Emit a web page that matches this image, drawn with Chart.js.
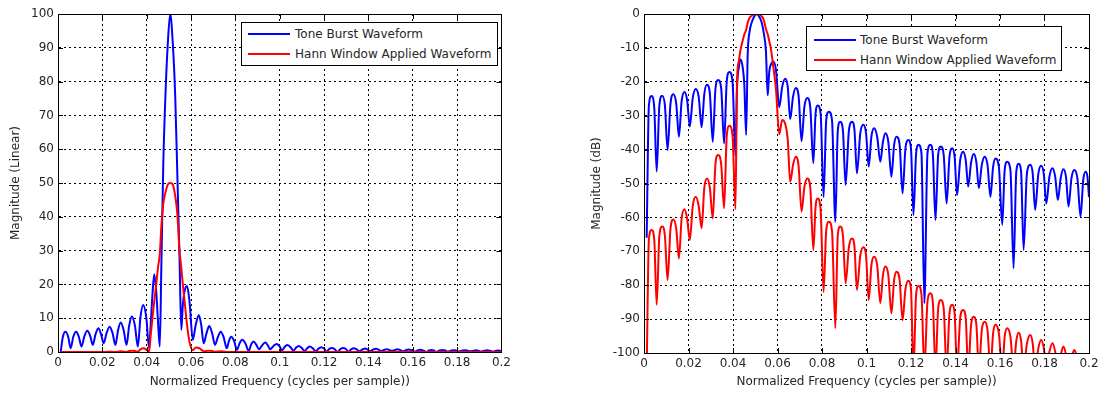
<!DOCTYPE html>
<html>
<head>
<meta charset="utf-8">
<script src="https://cdn.jsdelivr.net/npm/chart.js@4.4.1/dist/chart.umd.min.js"></script>
<style>
    body { margin: 0; background: #fff; width: 1103px; height: 394px; position: relative; overflow: hidden; }
    canvas { position: absolute; top: 0; }
    #left-chart { left: 0; }
    #right-chart { left: 580px; }
    .legend {
        position: absolute;
        background: #fff;
        border: 1px solid #000;
        box-sizing: border-box;
        font: 12px "DejaVu Sans", sans-serif;
        color: #262626;
    }
    .legend .row { position: absolute; left: 0; height: 20px; line-height: 20px; white-space: nowrap; }
    .legend .swatch { position: absolute; top: 9px; height: 2px; }
    .legend .label { position: absolute; top: 0; }
</style>
</head>
<body>
<canvas id="left-chart" width="515" height="394"></canvas>
<canvas id="right-chart" width="523" height="394"></canvas>

<div class="legend" style="left:241px; top:22px; width:257px; height:44px;">
    <div class="row" style="top:1px;"><div class="swatch" style="left:6px; width:42px; background:#0000ff;"></div><span class="label" style="left:53px;">Tone Burst Waveform</span></div>
    <div class="row" style="top:21px;"><div class="swatch" style="left:6px; width:42px; background:#ff0000;"></div><span class="label" style="left:53px;">Hann Window Applied Waveform</span></div>
</div>
<div class="legend" style="left:806px; top:26px; width:256px; height:45px;">
    <div class="row" style="top:3px;"><div class="swatch" style="left:7px; width:42px; background:#0000ff;"></div><span class="label" style="left:53px;">Tone Burst Waveform</span></div>
    <div class="row" style="top:23px;"><div class="swatch" style="left:7px; width:42px; background:#ff0000;"></div><span class="label" style="left:53px;">Hann Window Applied Waveform</span></div>
</div>

<script>
// Frequency points (one row per sidelobe: shoulder, peak, shoulder, null)
const freq = [
    0.0012,
    0.0022, 0.0034, 0.0046, 0.0057,
    0.0069, 0.0082, 0.0094, 0.0106,
    0.0119, 0.0132, 0.0145, 0.0157,
    0.0169, 0.0182, 0.0194, 0.0206,
    0.0219, 0.0233, 0.0246, 0.0259,
    0.0271, 0.0283, 0.0296, 0.0309,
    0.0321, 0.0333, 0.0347, 0.0360,
    0.0372, 0.0384, 0.0398, 0.0411,
    0.0418, 0.0426, 0.0434, 0.0443, 0.0451, 0.0459,
    0.0466, 0.0475, 0.0484, 0.0495, 0.0506, 0.0518, 0.0529, 0.0538, 0.0548, 0.0556,
    0.0563, 0.0571, 0.0582, 0.0593, 0.0608,
    0.0621, 0.0635, 0.0646, 0.0657,
    0.0670, 0.0682, 0.0695, 0.0708,
    0.0721, 0.0734, 0.0747, 0.0761,
    0.0771, 0.0781, 0.0794, 0.0807,
    0.0819, 0.0831, 0.0845, 0.0860,
    0.0871, 0.0882, 0.0894, 0.0906,
    0.0921, 0.0935, 0.0946, 0.0957,
    0.0972, 0.0986, 0.0998, 0.1010,
    0.1022, 0.1034, 0.1048, 0.1062,
    0.1074, 0.1085, 0.1098, 0.1112,
    0.1124, 0.1135, 0.1149, 0.1162,
    0.1175, 0.1188, 0.1200, 0.1211,
    0.1223, 0.1234, 0.1247, 0.1260,
    0.1274, 0.1287, 0.1298, 0.1310,
    0.1322, 0.1334, 0.1347, 0.1360,
    0.1373, 0.1385, 0.1396, 0.1407,
    0.1421, 0.1434, 0.1446, 0.1457,
    0.1470, 0.1482, 0.1494, 0.1505,
    0.1518, 0.1531, 0.1544, 0.1557,
    0.1569, 0.1580, 0.1595, 0.1610,
    0.1621, 0.1632, 0.1647, 0.1661,
    0.1673, 0.1684, 0.1695, 0.1706,
    0.1721, 0.1736, 0.1747, 0.1758,
    0.1772, 0.1785, 0.1797, 0.1808,
    0.1822, 0.1836, 0.1848, 0.1860,
    0.1873, 0.1885, 0.1897, 0.1908,
    0.1921, 0.1934, 0.1948, 0.1962,
    0.1974, 0.1985, 0.1993, 0.2000
];

// Linear magnitude (left plot)
const toneLin = [
    0,
    4.5, 6.0, 4.5, 1.1,
    4.5, 6.0, 4.5, 1.6,
    4.7, 6.3, 4.8, 2.1,
    5.2, 7.0, 5.3, 2.6,
    5.6, 7.5, 5.6, 2.1,
    6.5, 8.7, 6.5, 2.1,
    7.8, 10.5, 7.8, 1.6,
    10.3, 13.9, 10.3, 1.1,
    8, 17, 23, 18, 9, 1.6,
    25, 56, 75, 91, 100, 91, 75, 53, 28, 6.5,
    14, 18, 19.5, 15, 3.6,
    8, 10.9, 8, 2.6,
    5.6, 7.7, 5.6, 2.1,
    4.4, 6.0, 4.4, 1.1,
    3.3, 4.5, 3.3, 0.6,
    2.6, 3.6, 2.6, 0.3,
    2.2, 3.1, 2.2, 0.8,
    2.0, 2.8, 2.0, 0.8,
    1.8, 2.4, 1.8, 0.5,
    1.5, 2.1, 1.5, 0.4,
    1.3, 1.8, 1.3, 0.3,
    1.1, 1.6, 1.1, 0.2,
    1.0, 1.4, 1.0, 0.1,
    0.9, 1.2, 0.9, 0,
    0.9, 1.2, 0.9, 0.1,
    0.8, 1.1, 0.8, 0.2,
    0.75, 1.05, 0.75, 0.2,
    0.7, 0.95, 0.7, 0.3,
    0.6, 0.85, 0.6, 0.3,
    0.55, 0.8, 0.55, 0.2,
    0.55, 0.75, 0.55, 0.1,
    0.45, 0.65, 0.45, 0,
    0.45, 0.6, 0.45, 0,
    0.45, 0.6, 0.45, 0.1,
    0.4, 0.55, 0.4, 0.15,
    0.4, 0.55, 0.4, 0.2,
    0.35, 0.5, 0.35, 0.15,
    0.35, 0.5, 0.35, 0.1,
    0.3, 0.45, 0.35, 0.2
];

const hannLin = [
    0,
    0, 0, 0, 0,
    0, 0, 0, 0,
    0, 0, 0, 0,
    0, 0, 0, 0,
    0.05, 0.1, 0.05, 0,
    0.1, 0.2, 0.1, 0,
    0.3, 0.4, 0.3, 0.05,
    0.8, 1.1, 0.8, 0.1,
    5, 10, 15, 20, 25, 29,
    37, 44, 47, 49.5, 50, 49.5, 46, 41, 30, 25,
    20, 15, 8, 3, 0.5,
    1.3, 1.2, 0.7, 0.2,
    0.3, 0.4, 0.3, 0.05,
    0.15, 0.2, 0.15, 0,
    0, 0, 0, 0,
    0, 0, 0, 0,
    0, 0, 0, 0,
    0, 0, 0, 0,
    0, 0, 0, 0,
    0, 0, 0, 0,
    0, 0, 0, 0,
    0, 0, 0, 0,
    0, 0, 0, 0,
    0, 0, 0, 0,
    0, 0, 0, 0,
    0, 0, 0, 0,
    0, 0, 0, 0,
    0, 0, 0, 0,
    0, 0, 0, 0,
    0, 0, 0, 0,
    0, 0, 0, 0,
    0, 0, 0, 0,
    0, 0, 0, 0,
    0, 0, 0, 0,
    0, 0, 0, 0,
    0, 0, 0, 0,
    0, 0, 0, 0,
    0, 0, 0, 0,
    0, 0, 0, 0
];

// Magnitude in dB (right plot)
const toneDb = [
    -66,
    -27, -24.2, -27.5, -46.5,
    -27, -24.1, -27, -40.1,
    -26.5, -23.7, -26.5, -36.2,
    -25.8, -23, -25.5, -33.2,
    -24.8, -22.1, -24.5, -33.4,
    -23.6, -20.9, -23.5, -37.7,
    -22.2, -19.5, -22, -38.2,
    -19.8, -17.1, -20, -41.9,
    -22, -15.8, -13.4, -15.5, -21, -35.7,
    -12, -5, -2.5, -0.8, 0, -0.8, -2.5, -5.5, -11, -24,
    -17, -14.8, -14.1, -16.5, -27.5,
    -21.5, -19.1, -21.5, -31,
    -24.3, -21.8, -24.3, -37.5,
    -27.3, -24.8, -27.3, -44,
    -29.5, -27, -29.5, -54,
    -31.3, -28.8, -31.3, -61.3,
    -34.3, -31.8, -34.3, -50.4,
    -34.3, -31.8, -34.3, -47,
    -35.2, -32.7, -35.2, -45,
    -36.2, -33.7, -36.2, -43.6,
    -37.7, -35.2, -37.7, -48,
    -38.7, -36.2, -38.7, -52.9,
    -39.7, -37.2, -39.7, -59.3,
    -41.1, -38.6, -41.1, -85.3,
    -41.1, -38.6, -41.1, -60.8,
    -41.6, -39.1, -41.6, -55.9,
    -42.1, -39.6, -42.1, -53.4,
    -43.1, -40.6, -43.1, -50.9,
    -43.8, -41.3, -43.8, -51.4,
    -44.6, -42.1, -44.6, -53.9,
    -45.1, -42.6, -45.1, -62.2,
    -46.1, -43.6, -46.1, -75,
    -46.7, -44.2, -46.7, -69.6,
    -47, -44.5, -47, -57.8,
    -47.3, -44.8, -47.3, -55.9,
    -48, -45.5, -48, -54.9,
    -48.3, -45.8, -48.3, -56.8,
    -48.5, -46, -48.5, -59.8,
    -49, -46.5, -48, -54
];

const hannDb = [
    -105,
    -66.5, -63.7, -66.5, -85.8,
    -65.5, -62.7, -65.5, -78.5,
    -63.4, -60.6, -63.4, -72.1,
    -60.4, -57.6, -60.4, -66.7,
    -56.7, -53.9, -56.7, -63.2,
    -51.3, -48.5, -51.3, -60.3,
    -44.4, -41.6, -44.4, -57.3,
    -35.8, -33, -36, -57.6,
    -20, -14, -10.5, -8, -6, -4.7,
    -2.6, -1.1, -0.5, -0.1, 0, -0.1, -0.7, -1.7, -4.4, -6,
    -8, -10.5, -16, -22, -35.5,
    -31.3, -32.5, -37, -49.5,
    -44.5, -42.1, -45, -58.3,
    -51, -48.5, -51, -69.6,
    -57, -54.4, -58, -82,
    -63.8, -61.3, -64, -92.7,
    -65.2, -62.7, -65.2, -79.4,
    -68.7, -66.2, -68.7, -81.4,
    -71.3, -68.8, -71.3, -84.4,
    -74.1, -71.6, -74.1, -85.3,
    -77, -74.5, -77, -88.3,
    -78.5, -76, -78.5, -90.3,
    -81.2, -78.7, -81.2, -105,
    -82.7, -80.2, -82.7, -105,
    -84.9, -82.4, -84.9, -105,
    -86.9, -84.4, -86.9, -105,
    -88.3, -85.8, -88.3, -105,
    -89.8, -87.3, -89.8, -105,
    -91.8, -89.3, -91.8, -105,
    -93.3, -90.8, -93.3, -105,
    -94.2, -91.7, -94.2, -105,
    -95.2, -92.7, -95.2, -105,
    -96.5, -94, -96.5, -105,
    -97.2, -94.7, -97.2, -105,
    -98.7, -96.2, -98.7, -105,
    -99.6, -97.1, -99.6, -105,
    -100.6, -98.1, -100.6, -105,
    -101.6, -99.1, -101.6, -105,
    -102, -100.5, -103, -105
];

const seriesLabels = ['Tone Burst Waveform', 'Hann Window Applied Waveform'];
const xTitle = 'Normalized Frequency (cycles per sample))';

const FONT = '"DejaVu Sans", sans-serif';
const TEXT = '#262626';

// Solid box round the plot plus MATLAB-style inward ticks
const boxPlugin = {
    id: 'box',
    afterDraw(chart) {
        const { ctx, chartArea: a, scales } = chart;
        ctx.save();
        ctx.strokeStyle = '#000';
        ctx.lineWidth = 1;
        ctx.beginPath();
        scales.x.ticks.forEach(t => {
            const px = Math.round(scales.x.getPixelForValue(t.value)) + 0.5;
            ctx.moveTo(px, a.bottom); ctx.lineTo(px, a.bottom - 5);
            ctx.moveTo(px, a.top); ctx.lineTo(px, a.top + 5);
        });
        scales.y.ticks.forEach(t => {
            const py = Math.round(scales.y.getPixelForValue(t.value)) + 0.5;
            ctx.moveTo(a.left, py); ctx.lineTo(a.left + 5, py);
            ctx.moveTo(a.right, py); ctx.lineTo(a.right - 5, py);
        });
        ctx.stroke();
        ctx.strokeRect(Math.round(a.left) + 0.5, Math.round(a.top) + 0.5,
            Math.round(a.right - a.left), Math.round(a.bottom - a.top));
        ctx.restore();
    }
};

function makeChart(id, blue, red, yMin, yMax, yTitle, yWidth, xHeight, padRight, titlePad) {
    const ctx = document.getElementById(id).getContext('2d');
    return new Chart(ctx, {
        type: 'line',
        data: {
            datasets: [
                {
                    label: seriesLabels[0],
                    data: freq.map((f, i) => ({ x: f, y: blue[i] })),
                    borderColor: '#0000ff',
                    borderWidth: 2,
                    pointRadius: 0,
                    cubicInterpolationMode: 'monotone',
                    order: 2
                },
                {
                    label: seriesLabels[1],
                    data: freq.map((f, i) => ({ x: f, y: red[i] })),
                    borderColor: '#ff0000',
                    borderWidth: 2,
                    pointRadius: 0,
                    cubicInterpolationMode: 'monotone',
                    order: 1
                }
            ]
        },
        options: {
            responsive: false,
            animation: false,
            layout: { padding: { top: 14, right: padRight, left: 0, bottom: 0 } },
            plugins: { legend: { display: false }, tooltip: { enabled: false } },
            scales: {
                x: {
                    type: 'linear',
                    min: 0,
                    max: 0.2,
                    afterFit: axis => { axis.height = xHeight; },
                    ticks: {
                        stepSize: 0.02,
                        padding: 4,
                        maxRotation: 0,
                        color: TEXT,
                        font: { family: FONT, size: 12 },
                        callback: v => +v.toFixed(2)
                    },
                    grid: { color: '#000', drawTicks: false, lineWidth: 1 },
                    border: { display: true, color: '#000', dash: [2, 3] },
                    title: {
                        display: true,
                        text: xTitle,
                        color: TEXT,
                        font: { family: FONT, size: 12 },
                        padding: { top: 0, bottom: 5 }
                    }
                },
                y: {
                    type: 'linear',
                    min: yMin,
                    max: yMax,
                    afterFit: axis => { axis.width = yWidth; },
                    ticks: {
                        stepSize: 10,
                        padding: 4,
                        color: TEXT,
                        font: { family: FONT, size: 12 }
                    },
                    grid: { color: '#000', drawTicks: false, lineWidth: 1 },
                    border: { display: true, color: '#000', dash: [2, 3] },
                    title: {
                        display: true,
                        text: yTitle,
                        color: TEXT,
                        font: { family: FONT, size: 12 },
                        padding: { top: titlePad, bottom: 0 }
                    }
                }
            }
        },
        plugins: [boxPlugin]
    });
}

makeChart('left-chart', toneLin, hannLin, 0, 100, 'Magnitude (Linear)', 58, 42, 12, 9);
makeChart('right-chart', toneDb, hannDb, -100, 0, 'Magnitude (dB)', 64, 41, 14, 10);
</script>
</body>
</html>
